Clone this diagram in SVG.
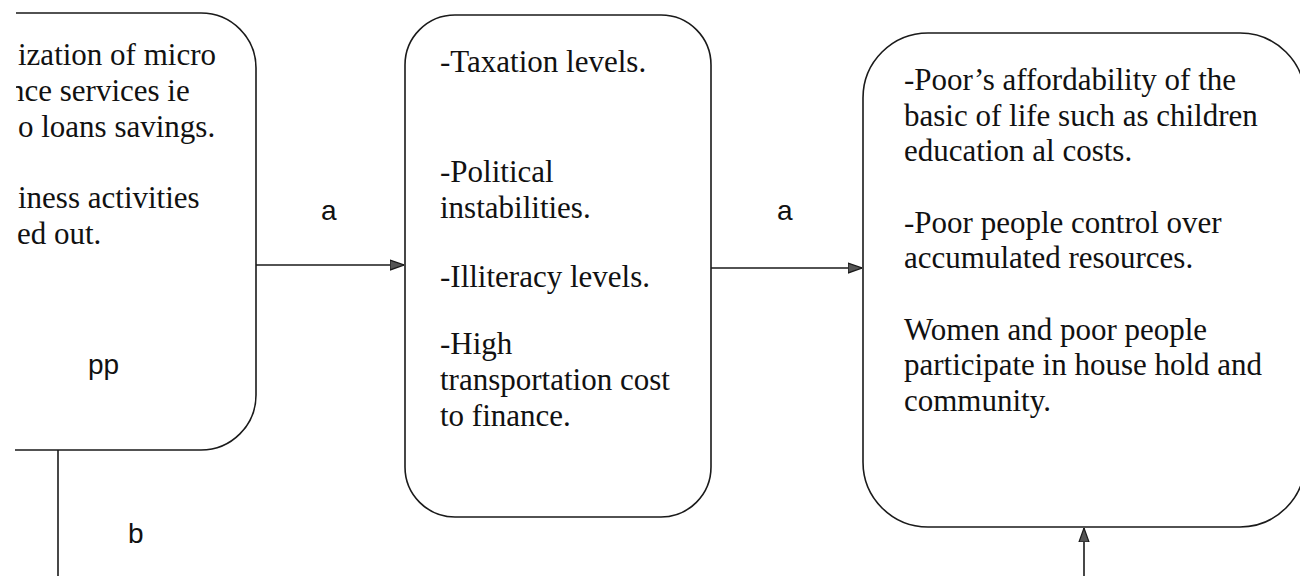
<svg xmlns="http://www.w3.org/2000/svg" width="1300" height="576" viewBox="0 0 1300 576">
<style>
.box{fill:none;stroke:#1a1a1a;stroke-width:1.6}
.t{font-family:"Liberation Serif","Times New Roman",serif;font-size:31px;fill:#111}
.lbl{font-family:"Liberation Sans",Arial,sans-serif;font-size:28px;fill:#111}
.edge{fill:none;stroke:#1a1a1a;stroke-width:1.6}
</style>
<defs>
<marker id="arr" viewBox="0 0 14 12" refX="14" refY="6" markerWidth="14" markerHeight="12" markerUnits="userSpaceOnUse" orient="auto">
<path d="M0,1 L14,6 L0,11 Z" fill="#555" stroke="#1a1a1a" stroke-width="1.2"/>
</marker>
<clipPath id="clipL"><rect x="16" y="0" width="300" height="576"/></clipPath>
</defs>
<rect width="1300" height="576" fill="#fff"/>
<g id="node-left">
<path class="box" d="M16,13 H201 A55,55 0 0 1 256,68 V395 A55,55 0 0 1 201,450 H15"/>
<g clip-path="url(#clipL)">
<text class="t" x="18" y="65">ization of micro</text>
<text class="t" x="9" y="100.5">nce services ie</text>
<text class="t" x="18" y="136.5">o loans savings.</text>
<text class="t" x="18" y="208">iness activities</text>
<text class="t" x="17" y="244">ed out.</text>
</g>
<text class="lbl" x="88" y="374">pp</text>
</g>
<g id="node-middle">
<rect class="box" x="405" y="15" width="306" height="502" rx="50" ry="50"/>
<text class="t" x="440" y="72">-Taxation levels.</text>
<text class="t" x="440" y="182">-Political</text>
<text class="t" x="440" y="217.5">instabilities.</text>
<text class="t" x="440" y="287">-Illiteracy levels.</text>
<text class="t" x="440" y="354">-High</text>
<text class="t" x="440" y="390">transportation cost</text>
<text class="t" x="440" y="425.5">to finance.</text>
</g>
<g id="node-right">
<rect class="box" x="863" y="33" width="442" height="494" rx="65" ry="65"/>
<text class="t" x="904" y="90">-Poor’s affordability of the</text>
<text class="t" x="904" y="125.5">basic of life such as children</text>
<text class="t" x="904" y="161">education al costs.</text>
<text class="t" x="904" y="232.5">-Poor people control over</text>
<text class="t" x="904" y="268">accumulated resources.</text>
<text class="t" x="904" y="339.5">Women and poor people</text>
<text class="t" x="904" y="375">participate in house hold and</text>
<text class="t" x="904" y="410.5">community.</text>
</g>
<g id="connectors">
<path class="edge" d="M256,265 H404" marker-end="url(#arr)"/>
<path class="edge" d="M711,268 H862" marker-end="url(#arr)"/>
<path class="edge" d="M1084,576 V528" marker-end="url(#arr)"/>
<path class="edge" d="M58,450 V576"/>
<text class="lbl" x="321" y="220">a</text>
<text class="lbl" x="777" y="220">a</text>
<text class="lbl" x="128" y="543">b</text>
</g>
</svg>
